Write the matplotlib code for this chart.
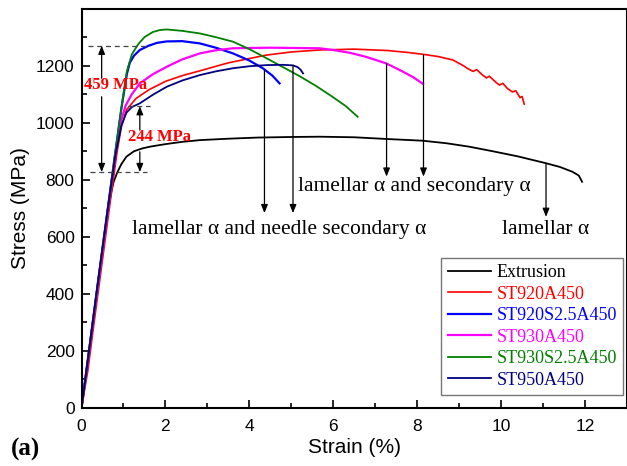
import matplotlib
matplotlib.use("Agg")
import matplotlib.pyplot as plt
from matplotlib.ticker import MultipleLocator, FixedLocator

# ---------------- data ----------------
ext_strain = [0, 0.2, 0.4, 0.6, 0.7, 0.76, 0.85, 0.95, 1.07, 1.25, 1.45, 1.63, 2.0, 2.4, 2.82,
              3.5, 4.2, 5.0, 5.67, 6.5, 7.27, 8.13, 8.7, 9.24, 9.8, 10.4, 11.07, 11.4, 11.7, 11.85, 11.93]
ext_stress = [0, 220, 440, 660, 750, 790, 825, 855, 881, 900, 910, 916, 925, 933, 939,
              944, 948, 950, 951, 949, 943, 937, 928, 916, 900, 882, 858, 845, 828, 815, 793]

r_strain = [0, 0.15, 0.3, 0.5, 0.7, 0.85, 0.95, 1.07, 1.3, 1.6, 2.0, 2.4, 2.82, 3.5, 4.4, 5.0,
            5.67, 6.5, 7.3, 7.8, 8.13, 8.5, 8.85, 9.1, 9.2, 9.33, 9.42, 9.55, 9.65, 9.72, 9.85,
            9.96, 10.04, 10.15, 10.27, 10.35, 10.45, 10.5, 10.55]
r_stress = [0, 130, 300, 520, 740, 900, 985, 1045, 1085, 1115, 1145, 1165, 1182, 1210, 1237, 1248,
            1255, 1258, 1253, 1246, 1240, 1232, 1220, 1200, 1190, 1180, 1186, 1168, 1157, 1163, 1145,
            1132, 1138, 1120, 1108, 1112, 1088, 1092, 1065]

b_strain = [0, 0.2, 0.4, 0.6, 0.8, 0.95, 1.08, 1.15, 1.25, 1.39, 1.6, 1.8, 2.03, 2.4, 2.82, 3.2,
            3.61, 4.0, 4.32, 4.55, 4.72]
b_stress = [0, 225, 450, 670, 890, 1050, 1170, 1210, 1235, 1255, 1270, 1280, 1285, 1286, 1278, 1263,
            1243, 1218, 1191, 1165, 1138]

m_strain = [0, 0.2, 0.4, 0.6, 0.8, 0.95, 1.05, 1.2, 1.39, 1.7, 2.03, 2.4, 2.82, 3.2, 3.61, 4.5,
            5.67, 6.0, 6.4, 6.78, 7.26, 7.58, 7.9, 8.14]
m_stress = [0, 220, 440, 660, 880, 1010, 1060, 1100, 1138, 1170, 1196, 1222, 1243, 1254, 1261, 1263,
            1261, 1255, 1245, 1231, 1208, 1185, 1160, 1136]

g_strain = [0, 0.2, 0.4, 0.6, 0.8, 0.95, 1.08, 1.2, 1.35, 1.5, 1.7, 1.87, 2.03, 2.4, 2.82, 3.2,
            3.61, 4.0, 4.41, 4.8, 5.2, 5.6, 5.98, 6.3, 6.58]
g_stress = [0, 225, 450, 670, 890, 1050, 1180, 1240, 1275, 1300, 1318, 1325, 1327, 1322, 1313, 1300,
            1284, 1258, 1226, 1195, 1163, 1128, 1091, 1058, 1021]

n_strain = [0, 0.2, 0.4, 0.6, 0.8, 0.95, 1.07, 1.2, 1.39, 1.7, 2.03, 2.4, 2.82, 3.2, 3.61, 4.0,
            4.41, 4.8, 5.04, 5.15, 5.22, 5.28]
n_stress = [0, 225, 450, 670, 880, 990, 1035, 1055, 1068, 1098, 1126, 1148, 1167, 1180, 1191, 1198,
            1202, 1203, 1201, 1195, 1186, 1173]

labels = ["Extrusion", "ST920A450", "ST920S2.5A450", "ST930A450", "ST930S2.5A450", "ST950A450"]
colors = ["#000000", "#ff0000", "#0000ff", "#ff00ff", "#008000", "#000080"]

y_ticks = [0, 200, 400, 600, 800, 1000, 1200]
x_ticks = [0, 2, 4, 6, 8, 10, 12]

# annotation values
dash_levels = [1270, 1058, 827]
diff_labels = ["459 MPa", "244 MPa"]
micro_labels = ["lamellar α and needle secondary α", "lamellar α and secondary α", "lamellar α"]

# ---------------- plot ----------------
plt.rcParams['font.family'] = ['Liberation Sans', 'DejaVu Sans']
fig = plt.figure(figsize=(6.27, 4.66), dpi=100)
ax = fig.add_axes([0.130, 0.1245, 0.870, 0.857])

series = [(ext_strain, ext_stress), (r_strain, r_stress), (b_strain, b_stress),
          (m_strain, m_stress), (g_strain, g_stress), (n_strain, n_stress)]
lws = [1.3, 1.2, 1.6, 1.6, 1.3, 1.3]
for (xs, ys), lab, c, lw in zip(series, labels, colors, lws):
    ax.plot(xs, ys, color=c, lw=lw, label=lab)

ax.set_xlim(0, 13)
ax.set_ylim(0, 1400)
ax.xaxis.set_major_locator(FixedLocator(x_ticks))
ax.xaxis.set_minor_locator(MultipleLocator(1))
ax.yaxis.set_major_locator(FixedLocator(y_ticks))
ax.yaxis.set_minor_locator(MultipleLocator(100))
ax.tick_params(which='both', direction='in', top=False, right=False, labelsize=12.5, width=1.2)
ax.tick_params(which='major', length=6)
ax.tick_params(axis='x', which='major', pad=8)
ax.tick_params(axis='y', which='major', pad=5)
ax.tick_params(which='minor', length=3.5)
for sp in ax.spines.values():
    sp.set_linewidth(1.5)
ax.set_xlabel("Strain (%)", fontsize=15, labelpad=3)
ax.set_ylabel("Stress (MPa)", fontsize=15, labelpad=4)

# dashed reference lines
dkw = dict(color='#444444', lw=0.9, ls=(0, (4, 3)))
ax.plot([0.15, 1.6], [dash_levels[0]] * 2, **dkw)
ax.plot([1.1, 1.63], [dash_levels[1]] * 2, **dkw)
ax.plot([0.2, 1.55], [dash_levels[2]] * 2, **dkw)

akw = dict(arrowstyle='-|>,head_length=0.5,head_width=0.2', color='k', lw=0.9, shrinkA=0, shrinkB=0)
# 459 MPa double arrow (split around the label)
ax.annotate("", xy=(0.48, dash_levels[0]), xytext=(0.48, 1156), arrowprops=akw)
ax.annotate("", xy=(0.48, dash_levels[2]), xytext=(0.48, 1091), arrowprops=akw)
ax.text(0.80, 1132, diff_labels[0], color='red', fontsize=12, fontweight='bold',
        family='Liberation Serif', ha='center', va='center')
# 244 MPa double arrow
ax.annotate("", xy=(1.39, dash_levels[1]), xytext=(1.39, 974), arrowprops=akw)
ax.annotate("", xy=(1.39, dash_levels[2]), xytext=(1.39, 898), arrowprops=akw)
ax.text(1.855, 950, diff_labels[1], color='red', fontsize=12, fontweight='bold',
        family='Liberation Serif', ha='center', va='center')

# microstructure arrows
ax.annotate("", xy=(4.36, 683), xytext=(4.36, 1185), arrowprops=akw)
ax.annotate("", xy=(5.04, 683), xytext=(5.04, 1201), arrowprops=akw)
ax.annotate("", xy=(7.27, 811), xytext=(7.27, 1208), arrowprops=akw)
ax.annotate("", xy=(8.15, 811), xytext=(8.15, 1238), arrowprops=akw)
ax.annotate("", xy=(11.07, 670), xytext=(11.07, 857), arrowprops=akw)

tkw = dict(fontsize=15.5, family='Liberation Serif', ha='center', va='center')
ax.text(4.72, 627, micro_labels[0], **tkw)
ax.text(7.93, 778, micro_labels[1], **tkw)
ax.text(11.06, 627, micro_labels[2], **tkw)

leg = ax.legend(loc='lower right', bbox_to_anchor=(0.993, 0.0325), prop={'family': 'Liberation Serif', 'size': 13},
                frameon=True, fancybox=False, edgecolor='#555555', handlelength=2.4, handletextpad=0.3,
                labelspacing=0.25, borderpad=0.35, borderaxespad=0)
leg.get_frame().set_linewidth(1.0)
for txt, c in zip(leg.get_texts(), colors):
    txt.set_color(c)

fig.text(0.018, 0.022, "(a)", fontsize=18, fontweight='bold', family='Liberation Serif')

fig.savefig("out.png", dpi=100)
